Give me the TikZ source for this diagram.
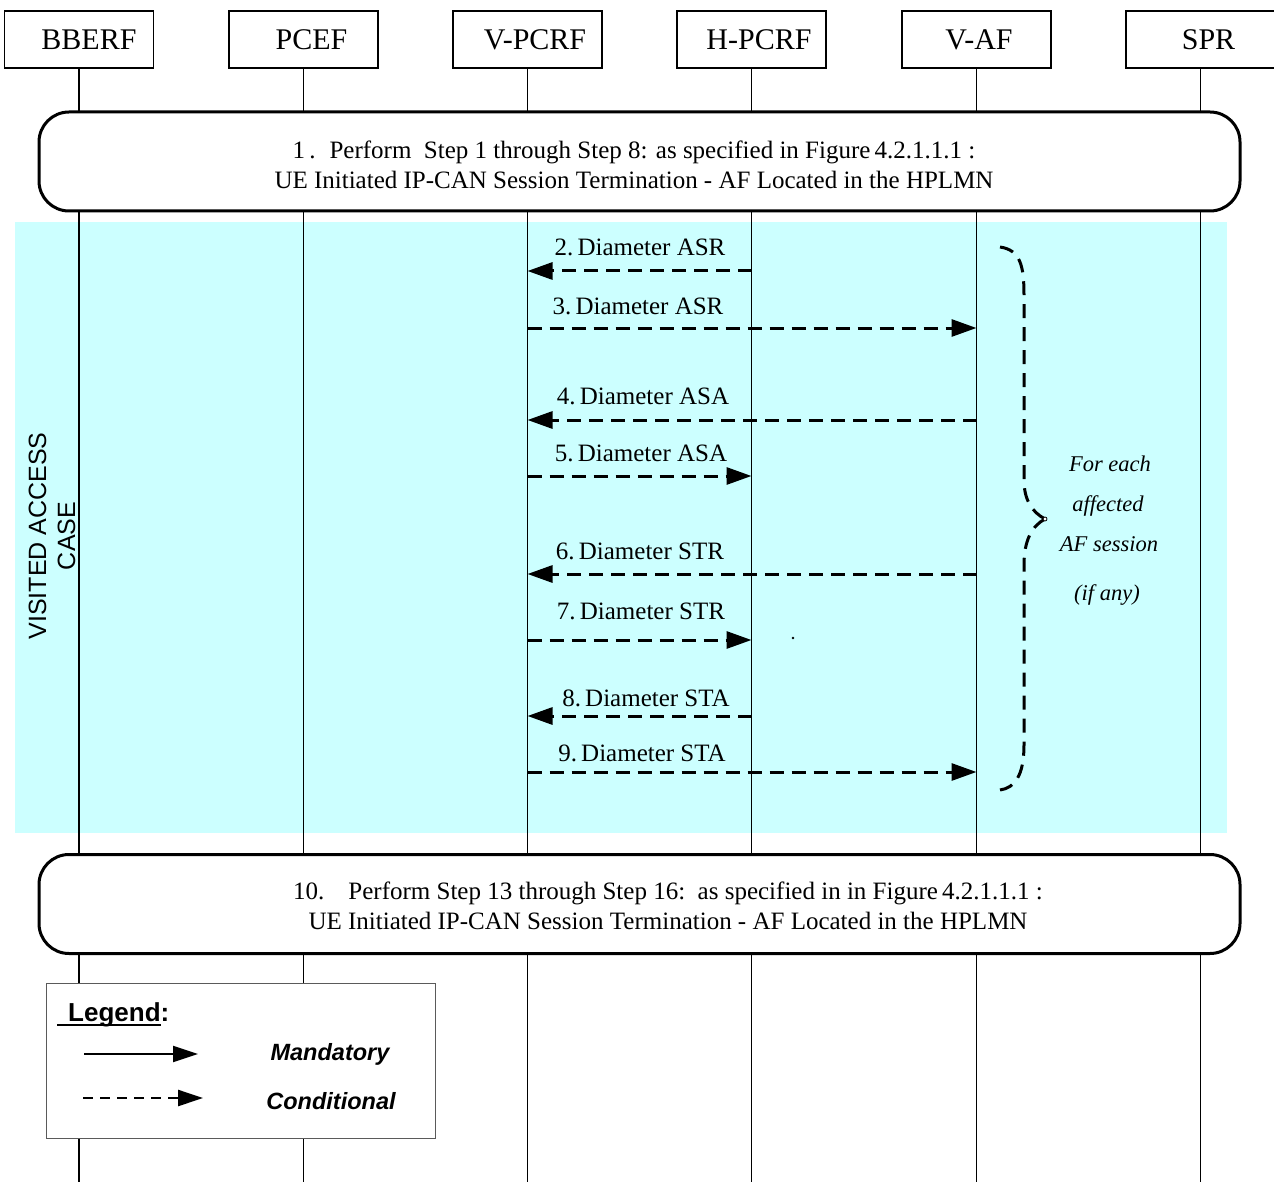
\documentclass[tikz,border=0pt]{standalone}
\usepackage{fontspec}
\setmainfont{Liberation Serif}
\setsansfont{Liberation Sans}
\usetikzlibrary{arrows.meta}
\definecolor{visit}{RGB}{204,255,255}
\definecolor{legline}{RGB}{90,90,90}
\begin{document}
\begin{tikzpicture}[x=1pt,y=-1pt,
  actor/.style={draw, line width=1.3pt, minimum width=149pt, minimum height=57pt, inner sep=0pt,
    font=\fontsize{30}{30}\selectfont},
  life/.style={line width=1.3pt},
  stepbox/.style={draw, line width=3pt, rounded corners=30pt, fill=white, minimum width=1201pt,
    minimum height=99pt, inner sep=0pt},
  steptext/.style={align=center, font=\fontsize{25}{30}\selectfont, inner sep=0pt},
  msg/.style={line width=3pt, dash pattern=on 14pt off 8pt, -{Triangle[length=25pt,width=17pt]}},
  lbl/.style={font=\fontsize{25}{25}\selectfont, anchor=base, inner sep=0pt},
  note/.style={font=\fontsize{22.5}{22.5}\itshape, anchor=base, inner sep=0pt},
  legtext/.style={font=\fontsize{23.5}{23.5}\sffamily\bfseries\itshape, inner sep=0pt},
  brace/.style={line width=3pt, dash pattern=on 14pt off 9pt}
]
\useasboundingbox (0,0) rectangle (1274,1182);
% visited access region
\fill[visit] (15,222) rectangle (1227,833);
\node[rotate=90, align=center, font=\fontsize{25}{29}\sffamily, inner sep=0pt] (case) at (52,536)
  {VISITED ACCESS\\CASE};
% actors
\node[actor] (bberf) at (79,39.5) {\hspace*{20pt}BBERF};
\node[actor] (pcef) at (303.5,39.5) {\hspace*{16pt}PCEF};
\node[actor] (vpcrf) at (527.5,39.5) {\hspace*{15pt}V-PCRF};
\node[actor] (hpcrf) at (751.5,39.5) {\hspace*{15pt}H-PCRF};
\node[actor] (vaf) at (976.5,39.5) {\hspace*{5pt}V-AF};
\node[actor] (spr) at (1200.5,39.5) {\hspace*{16pt}SPR};
% lifelines
\foreach \a in {bberf,pcef,vpcrf,hpcrf,vaf,spr}
  \draw[life] (\a.south) -- (\a.south |- 0,1182);
% step boxes
\node[stepbox] (s1) at (639.5,161.5) {};
\node[steptext] (s1t) at (634,165)
  {1\,.\hspace{14pt}Perform\ \ Step 1 through Step 8: as specified in Figure\,4.2.1.1.1 :\\
   UE Initiated IP-CAN Session Termination - AF Located in the HPLMN};
\node[stepbox] (s2) at (639.5,904) {};
\node[steptext] (s2t) at (668,906)
  {10.\hspace{24pt}Perform Step 13 through Step 16:\ \ as specified in in Figure\,4.2.1.1.1 :\\
   UE Initiated IP-CAN Session Termination - AF Located in the HPLMN};
% messages
\draw[msg] (hpcrf |- 0,271) -- (vpcrf |- 0,271);
\node[lbl] (l2) at (640,256) {2.\,Diameter ASR};
\draw[msg] (vpcrf |- 0,328) -- (vaf |- 0,328);
\node[lbl] (l3) at (638,314) {3.\,Diameter ASR};
\draw[msg] (vaf |- 0,420) -- (vpcrf |- 0,420);
\node[lbl] (l4) at (643,404) {4.\,Diameter ASA};
\draw[msg] (vpcrf |- 0,476) -- (hpcrf |- 0,476);
\node[lbl] (l5) at (641,461) {5.\,Diameter ASA};
\draw[msg] (vaf |- 0,574) -- (vpcrf |- 0,574);
\node[lbl] (l6) at (640,559) {6.\,Diameter STR};
\draw[msg] (vpcrf |- 0,640) -- (hpcrf |- 0,640);
\node[lbl] (l7) at (641,619) {7.\,Diameter STR};
\fill (793,638) circle (1.3pt);
\draw[msg] (hpcrf |- 0,716) -- (vpcrf |- 0,716);
\node[lbl] (l8) at (646,706) {8.\,Diameter STA};
\draw[msg] (vpcrf |- 0,772) -- (vaf |- 0,772);
\node[lbl] (l9) at (642,761) {9.\,Diameter STA};
% brace
\coordinate (bt) at (1000,247);
\coordinate (bm) at (1045,519);
\coordinate (bb) at (1000,790);
\draw[brace] (bt) .. controls (1020,250) and (1024,265) .. (1024,295) -- (1024,480)
  .. controls (1024,500) and (1032,512) .. (bm);
\draw[brace] (bm) .. controls (1032,526) and (1024,540) .. (1024,565) -- (1024,745)
  .. controls (1024,775) and (1015,788) .. (bb);
\draw[line width=0.8pt, fill=white] (bm) circle (2pt);
\node[note] (n1) at (1110,471) {For each};
\node[note] (n2) at (1108,511) {affected};
\node[note] (n3) at (1109,551) {AF session};
\node[note] (n4) at (1107,600) {(if any)};
% legend
\node[draw=legline, line width=1pt, fill=white, minimum width=389pt, minimum height=155pt, inner sep=0pt]
  (leg) at (240.5,1060.5) {};
\node[font=\fontsize{26}{26}\sffamily\bfseries, anchor=base west, inner sep=0pt] (legt) at (68,1021) {Legend:};
\draw[line width=2pt] (57,1025) -- (161,1025);
\coordinate (m1) at (84,1054);
\coordinate (m2) at (198,1054);
\coordinate (c1) at (83,1098);
\coordinate (c2) at (203,1098);
\draw[line width=2pt, -{Triangle[length=25pt,width=16pt]}] (m1) -- (m2);
\draw[line width=2.5pt, dash pattern=on 10pt off 7pt, -{Triangle[length=25pt,width=16pt]}] (c1) -- (c2);
\node[legtext] (mand) at (330,1054) {Mandatory};
\node[legtext] (cond) at (331,1101) {Conditional};
\end{tikzpicture}
\end{document}
